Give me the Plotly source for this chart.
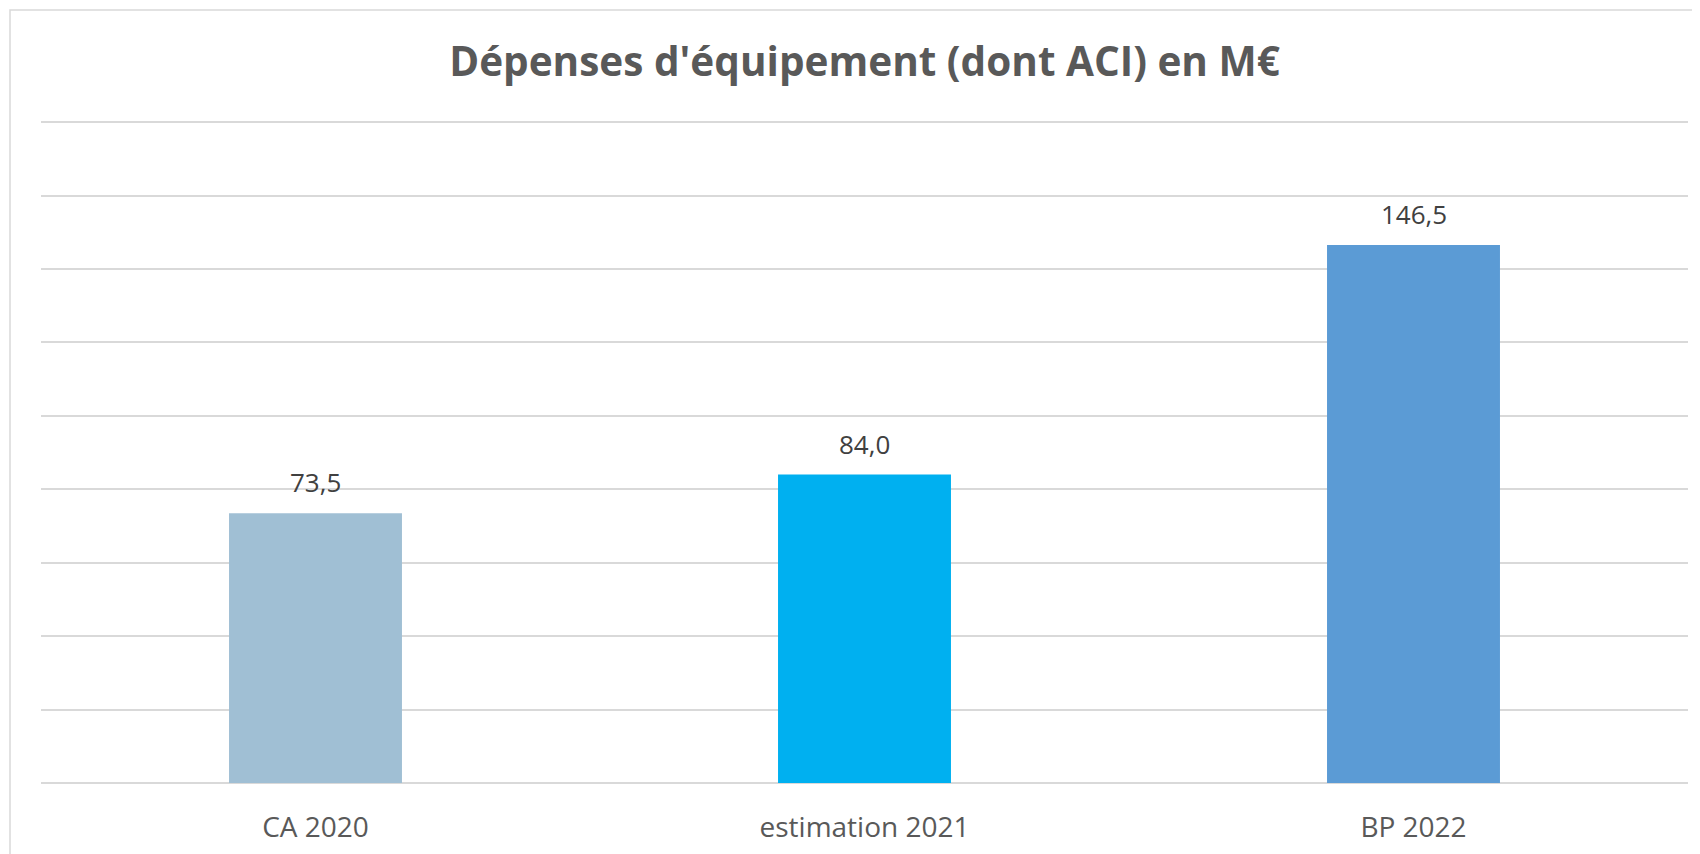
import plotly.graph_objects as go

categories = ["CA 2020", "estimation 2021", "BP 2022"]
values = [73.5, 84.0, 146.5]
bar_colors = ["#a0bfd4", "#00b0f0", "#5b9bd5"]
title_text = "Dépenses d'équipement (dont ACI) en M€"

W, H = 1700, 854
# the page body adds an 8px offset; margins compensate so the plot lands where the reference has it
ml, mr, mt, mb = 33, 20, 113, 79
pw = W - ml - mr
ph = H - mt - mb
ymax = 180.3

fig = go.Figure()
fig.add_trace(go.Bar(
    x=categories, y=values,
    marker=dict(color=bar_colors, line=dict(width=0)),
    hoverinfo="skip",
))

for c, v in zip(categories, values):
    fig.add_annotation(
        x=c, y=v, text=f"{v:.1f}".replace(".", ","),
        showarrow=False, yanchor="bottom", yshift=11,
        font=dict(family="Open Sans", size=26, color="#404040"),
    )

fig.update_layout(
    width=W, height=H,
    margin=dict(l=ml, r=mr, t=mt, b=mb, pad=0, autoexpand=False),
    paper_bgcolor="white", plot_bgcolor="white",
    bargap=0.685,
    showlegend=False,
    separators=", ",
    title=dict(
        text=f"<b>{title_text}</b>",
        x=0.5, xref="paper", xanchor="center",
        y=1 - 54 / H, yanchor="middle",
        font=dict(family="Open Sans", size=40.5, color="#595959"),
    ),
    xaxis=dict(
        showgrid=False, zeroline=False, showline=False, automargin=False,
        ticks="", tickfont=dict(family="Open Sans", size=28, color="#595959"),
        ticklabelstandoff=25,
    ),
    yaxis=dict(
        range=[0, ymax], dtick=20, tick0=0, automargin=False,
        showgrid=True, gridcolor="#d9d9d9", gridwidth=1.5,
        zeroline=True, zerolinecolor="#d9d9d9", zerolinewidth=1.5,
        showticklabels=False, ticks="", showline=False,
    ),
    shapes=[dict(
        type="rect", xref="paper", yref="paper",
        x0=(2 - ml) / pw, x1=1.1,
        y0=-0.2, y1=1 + (mt - 2) / ph,
        line=dict(color="#d9d9d9", width=1.5), fillcolor="rgba(0,0,0,0)",
        layer="below",
    )],
)

fig.write_html("out.html")
